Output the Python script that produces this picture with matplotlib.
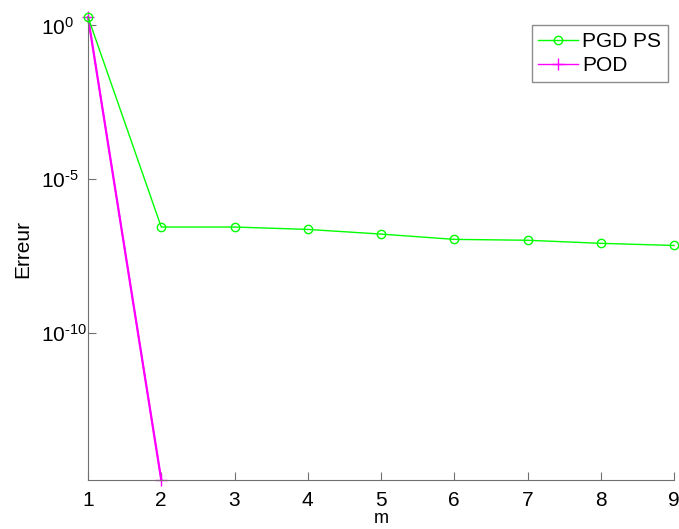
import matplotlib
matplotlib.use("Agg")
import matplotlib.pyplot as plt

plt.rcParams["font.family"] = ["Liberation Sans", "DejaVu Sans"]
plt.rcParams["mathtext.default"] = "regular"
plt.rcParams["mathtext.fontset"] = "custom"
plt.rcParams["mathtext.rm"] = "Liberation Sans"
plt.rcParams["axes.unicode_minus"] = False

m = [1, 2, 3, 4, 5, 6, 7, 8, 9]
pgd_ps = [1.89, 2.75e-7, 2.75e-7, 2.3e-7, 1.62e-7, 1.09e-7, 1.02e-7, 8.1e-8, 6.9e-8]
m_pod = [1, 2]
pod = [1.89, 1.6e-15]

xticks = [1, 2, 3, 4, 5, 6, 7, 8, 9]
yticks = [1e-10, 1e-5, 1e0]
ylabels = ["10$^{\\text{-10}}$", "10$^{\\text{-5}}$", "10$^{\\text{0}}$"]

fig = plt.figure(figsize=(6.79, 5.29), dpi=100)
ax = fig.add_axes([88 / 679, 1 - 480 / 529, 586 / 679, 463 / 529])

ax.plot(m, pgd_ps, color="#00ff00", marker="o", markersize=6, markerfacecolor="none",
        markeredgewidth=1.0, linewidth=1.0, label="PGD PS", clip_on=False, zorder=3)
ax.plot(m_pod, pod, color="#ff00ff", marker="+", markersize=8, linewidth=1.0,
        label="POD", clip_on=False, zorder=2)
# thicker trace on the plot itself
ax.plot(m_pod, pod, color="#ff00ff", linewidth=1.6, clip_on=False, zorder=2)

ax.set_yscale("log")
ax.set_xlim(1, 9)
ax.set_ylim(1.6e-15, 1.89)
ax.set_xticks(xticks)
ax.set_xticklabels([str(v) for v in xticks])
ax.set_yticks(yticks)
ax.set_yticklabels(ylabels, ha="left")
ax.yaxis.set_minor_locator(matplotlib.ticker.NullLocator())

for side in ["top", "right"]:
    ax.spines[side].set_visible(False)
for side in ["left", "bottom"]:
    ax.spines[side].set_color("#707070")
ax.tick_params(direction="in", length=6, color="#707070", labelsize=15)
ax.tick_params(axis="y", pad=34)
ax.tick_params(axis="x", pad=8)

ax.set_ylabel("Erreur", fontsize=15)
ax.yaxis.set_label_coords(-56 / 586, 0.499)
ax.set_xlabel("m", fontsize=13, labelpad=0)

leg = ax.legend(loc="upper right", bbox_to_anchor=(1 - 6 / 586, 1 - 8 / 463),
                bbox_transform=ax.transAxes, fontsize=15, fancybox=False,
                edgecolor="#707070", handlelength=1.9, borderpad=0.33,
                labelspacing=0.25, handletextpad=0.2, borderaxespad=0)
leg.get_frame().set_linewidth(1.0)

fig.savefig("out.png", dpi=100)
